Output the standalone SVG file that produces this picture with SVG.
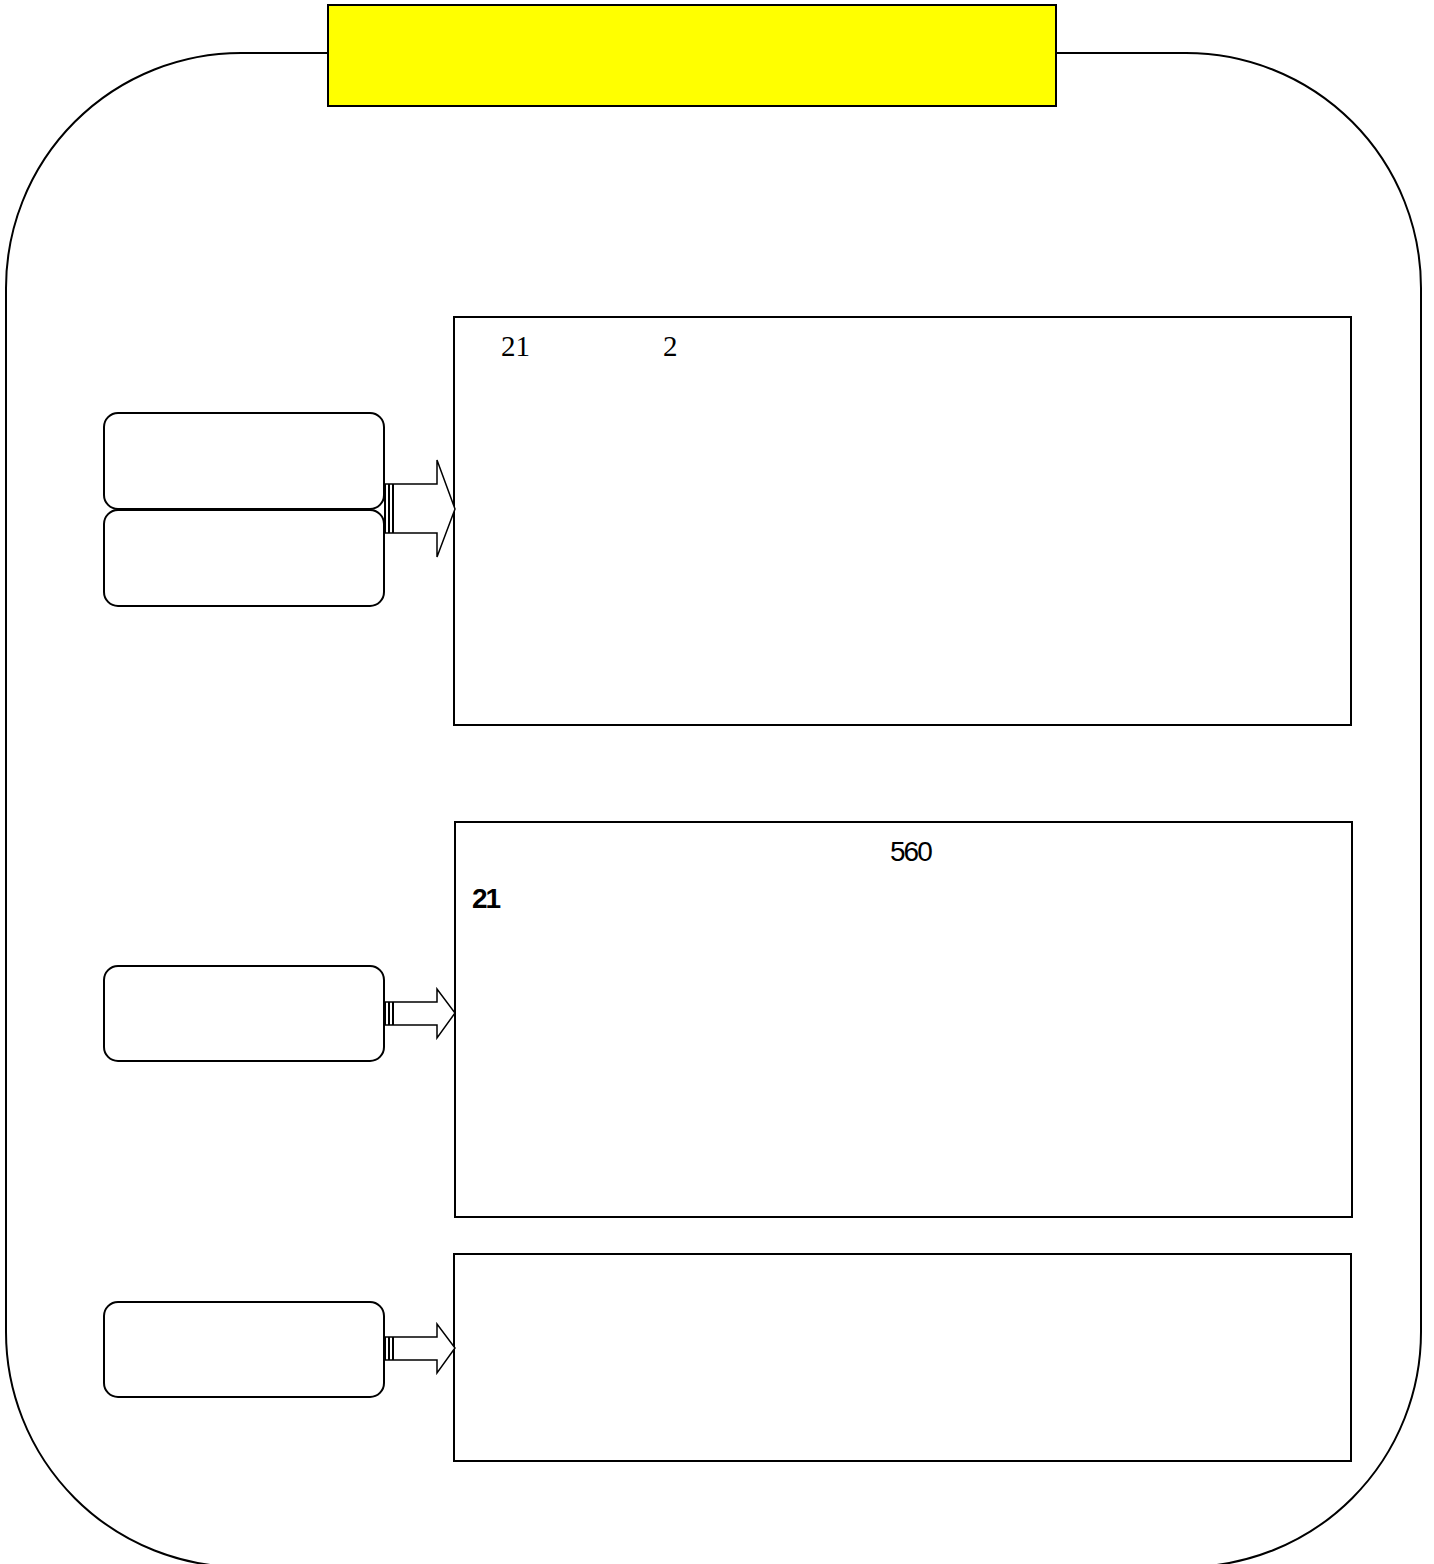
<svg xmlns="http://www.w3.org/2000/svg" width="1434" height="1564" viewBox="0 0 1434 1564">
<style>
.ln{fill:#fff;stroke:#000;stroke-width:2}
.sm{fill:#fff;stroke:#000;stroke-width:2}
.ar{fill:#fff;stroke:#000;stroke-width:1.5}
.t{font-family:"Liberation Serif",serif;font-size:29px;fill:#000}
.s{font-family:"Liberation Sans",sans-serif;font-size:28px;fill:#000;letter-spacing:-2px}
</style>
<rect id="frame" x="6" y="53" width="1415" height="1514" rx="235" ry="235" class="ln"/>
<g id="title"><rect x="328" y="5" width="728" height="101" fill="#ffff00" stroke="#000" stroke-width="2"/></g>
<g id="box1a"><rect x="104" y="413" width="280" height="96" rx="14" class="sm"/></g>
<g id="box1b"><rect x="104" y="510" width="280" height="96" rx="14" class="sm"/></g>
<g id="box2"><rect x="104" y="966" width="280" height="95" rx="14" class="sm"/></g>
<g id="box3"><rect x="104" y="1302" width="280" height="95" rx="14" class="sm"/></g>
<g id="panel1"><rect x="454" y="317" width="897" height="408" class="sm"/>
<text class="t" x="501" y="356">21</text><text class="t" x="663" y="356">2</text></g>
<g id="panel2"><rect x="455" y="822" width="897" height="395" class="sm"/>
<text class="s" x="890" y="861">560</text>
<text class="s" x="472" y="908" font-weight="bold" font-size="26">21</text></g>
<g id="panel3"><rect x="454" y="1254" width="897" height="207" class="sm"/></g>
<g id="connectors">
<path class="ar" d="M385,484 H437 V460 L455,509 L437,557 V533 H385 Z"/>
<path d="M385,484 V533 M389,484 V533 M393,484 V533" stroke="#000" stroke-width="2" fill="none"/>
<path class="ar" d="M385,1002 H437 V989 L455,1013 L437,1038 V1025 H385 Z"/>
<path d="M385,1002 V1025 M389,1002 V1025 M393,1002 V1025" stroke="#000" stroke-width="2" fill="none"/>
<path class="ar" d="M385,1337 H437 V1324 L455,1348 L437,1373 V1360 H385 Z"/>
<path d="M385,1337 V1360 M389,1337 V1360 M393,1337 V1360" stroke="#000" stroke-width="2" fill="none"/>
</g>
</svg>
